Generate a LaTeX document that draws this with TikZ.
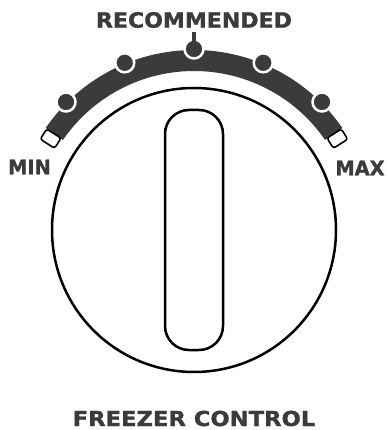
\documentclass[tikz,border=0pt]{standalone}
\usepackage{fontspec}
\newfontfamily\dialfont{DejaVu Sans}[FakeStretch=1.05, FakeBold=1.2]
\newfontfamily\titlefont{DejaVu Sans}[FakeStretch=1.1, FakeBold=1.2]
\newfontfamily\endfont{DejaVu Sans}[FakeStretch=0.97, FakeBold=1.2]
\definecolor{dialgray}{HTML}{3B3B3B}
\tikzset{
  dial label/.style={font=\dialfont\bfseries\fontsize{21}{23}\selectfont, text=dialgray, inner sep=0pt},
  title label/.style={dial label, font=\titlefont\bfseries\fontsize{20.6}{23}\selectfont},
  end label/.style={dial label, font=\endfont\bfseries\fontsize{20}{22}\selectfont},
  end stop/.style={draw, fill=white, line width=1.6pt, rounded corners=2.5pt,
    minimum width=17pt, minimum height=12pt, inner sep=0pt},
  notch/.style={fill=dialgray, draw=white, line width=2.5pt}
}
\begin{document}
\begin{tikzpicture}[x=1pt,y=1pt]
  \useasboundingbox (-194,-200) rectangle (193,230);

  % scale band
  \fill[dialgray] (34.5:159) arc[start angle=34.5, end angle=145.5, radius=159]
    -- (145.5:180) arc[start angle=145.5, end angle=34.5, radius=180] -- cycle;

  % notches on the band
  \foreach \a in {45,67.5,90,112.5,135} {
    \filldraw[notch] (\a:181) circle (9.5);
  }
  \fill[dialgray] (-1.8,186) rectangle (1.8,198);

  % end stops
  \node[end stop, rotate=147.5] (minstop) at (147.5:170) {};
  \node[end stop, rotate=32.5] (maxstop) at (32.5:170) {};

  % knob and grip
  \draw[line width=2.5pt] (0,0) circle (142);
  \draw[line width=2.5pt, rounded corners=24] (-29,-120) rectangle (29,120);

  % labels
  \node[dial label] (recommended) at (0,210) {RECOMMENDED};
  \node[end label] (min) at (-164.5,63) {MIN};
  \node[end label] (max) at (166,62) {MAX};
  \node[title label] (title) at (0,-188.5) {FREEZER CONTROL};
\end{tikzpicture}
\end{document}
